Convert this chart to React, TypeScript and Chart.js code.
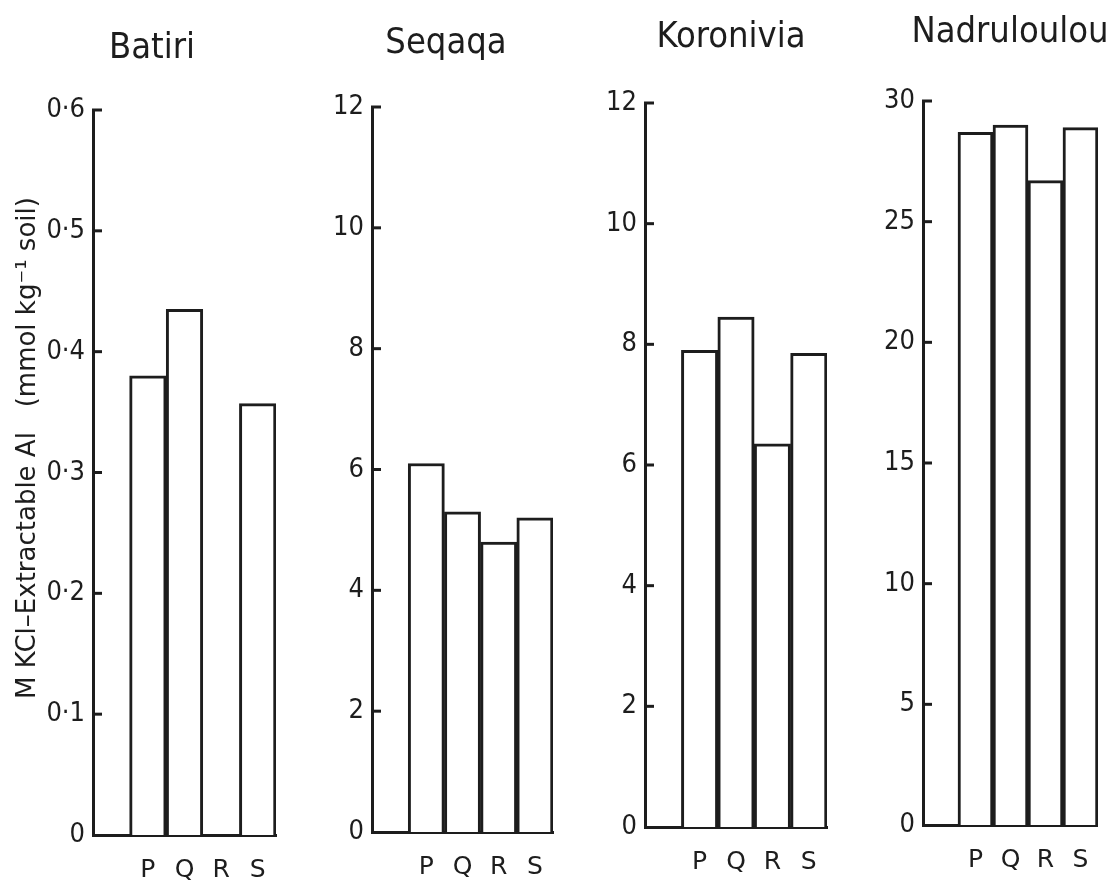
import React, { useEffect, useRef } from 'react';
import { Chart, registerables } from 'chart.js';

Chart.register(...registerables);

// Treatment categories; the first slot is left empty next to the axis
const categories = ['', 'P', 'Q', 'R', 'S'];

// KCl-extractable Al per site (mmol kg-1 soil)
const batiriValues = [null, 0.38, 0.435, 0, 0.357];
const seqaqaValues = [null, 6.1, 5.3, 4.8, 5.2];
const koroniviaValues = [null, 7.9, 8.45, 6.35, 7.85];
const nadruloulouValues = [null, 28.7, 29.0, 26.7, 28.9];

// Axis tick values per site
const batiriTicks = [0, 0.1, 0.2, 0.3, 0.4, 0.5, 0.6];
const seqaqaTicks = [0, 2, 4, 6, 8, 10, 12];
const koroniviaTicks = [0, 2, 4, 6, 8, 10, 12];
const nadruloulouTicks = [0, 5, 10, 15, 20, 25, 30];

const siteNames = ['Batiri', 'Seqaqa', 'Koronivia', 'Nadruloulou'];
const yAxisTitle = 'M KCl\u2013Extractable Al   (mmol kg\u207B\u00B9 soil)';

const INK = '#1d1d1d';
const FONT = '"DejaVu Sans Condensed", "DejaVu Sans", sans-serif';
const FONT_WIDE = '"DejaVu Sans", sans-serif';
const PAGE_W = 1109;
const PAGE_H = 883;
const Y_W = 60;
const X_H = 50;

const decimalLabel = (v: number) => (v === 0 ? '0' : v.toFixed(1).replace('.', '\u00B7'));
const integerLabel = (v: number) => String(v);

// Placement of each panel on the page
const panels = [
  { name: siteNames[0], values: batiriValues, ticks: batiriTicks, fmt: decimalLabel, axisX: 93, rightX: 276, top: 110, bottom: 835, titleX: 152, titleY: 58, yTitle: true },
  { name: siteNames[1], values: seqaqaValues, ticks: seqaqaTicks, fmt: integerLabel, axisX: 372, rightX: 553, top: 107, bottom: 832, titleX: 446, titleY: 53, yTitle: false },
  { name: siteNames[2], values: koroniviaValues, ticks: koroniviaTicks, fmt: integerLabel, axisX: 645, rightX: 827, top: 103, bottom: 827, titleX: 731, titleY: 47, yTitle: false },
  { name: siteNames[3], values: nadruloulouValues, ticks: nadruloulouTicks, fmt: integerLabel, axisX: 923, rightX: 1103, top: 101, bottom: 825, titleX: 1010, titleY: 42, yTitle: false },
];

// Inward tick marks, panel heading and the shared vertical axis title
const panelDecor = {
  id: 'panelDecor',
  afterDraw(chart: any, _args: any, opts: any) {
    const { ctx, chartArea } = chart;
    const y = chart.scales.y;
    ctx.save();
    ctx.strokeStyle = INK;
    ctx.lineWidth = 3;
    ctx.lineCap = 'butt';
    y.ticks.forEach((t: any) => {
      if (t.value === 0) return;
      const py = y.getPixelForValue(t.value);
      ctx.beginPath();
      ctx.moveTo(chartArea.left - 1, py);
      ctx.lineTo(chartArea.left + 9, py);
      ctx.stroke();
    });
    ctx.fillStyle = INK;
    ctx.font = `36px ${FONT}`;
    ctx.textAlign = 'center';
    ctx.textBaseline = 'alphabetic';
    ctx.fillText(opts.title, opts.titleX, opts.titleY);
    if (opts.showYTitle) {
      ctx.translate(28, 448);
      ctx.rotate(-Math.PI / 2);
      ctx.font = `26px ${FONT_WIDE}`;
      ctx.textBaseline = 'middle';
      ctx.fillText(yAxisTitle, 0, 0);
    }
    ctx.restore();
  },
};

function Panel({ p }: { p: (typeof panels)[number] }) {
  const ref = useRef<HTMLCanvasElement>(null);
  useEffect(() => {
    if (!ref.current) return;
    const max = p.ticks[p.ticks.length - 1];
    const chart = new Chart(ref.current, {
      type: 'bar',
      data: {
        labels: categories,
        datasets: [
          {
            data: p.values as any,
            backgroundColor: '#ffffff',
            borderColor: INK,
            borderWidth: 3,
            barPercentage: 1,
            categoryPercentage: 1,
          },
        ],
      },
      options: {
        responsive: false,
        animation: false,
        devicePixelRatio: 1,
        layout: {
          padding: {
            left: p.axisX - Y_W,
            right: PAGE_W - p.rightX,
            top: p.top,
            bottom: PAGE_H - p.bottom - X_H,
          },
        },
        plugins: {
          legend: { display: false },
          tooltip: { enabled: false },
          panelDecor: { title: p.name, titleX: p.titleX, titleY: p.titleY, showYTitle: p.yTitle },
        } as any,
        scales: {
          x: {
            grid: { display: false, drawTicks: false },
            border: { display: true, width: 3, color: INK },
            ticks: { color: INK, font: { family: FONT_WIDE, size: 25 }, padding: 20, maxRotation: 0 },
            afterFit: (s: any) => {
              s.height = X_H;
            },
          },
          y: {
            min: 0,
            max,
            grid: { display: false, drawTicks: false },
            border: { display: true, width: 3, color: INK },
            ticks: {
              color: INK,
              font: { family: FONT, size: 27 },
              padding: 8,
              callback: (v: any) => p.fmt(Number(v)),
            },
            afterBuildTicks: (s: any) => {
              s.ticks = p.ticks.map((v) => ({ value: v }));
            },
            afterFit: (s: any) => {
              s.width = Y_W;
            },
          },
        },
      },
      plugins: [panelDecor],
    });
    return () => chart.destroy();
  }, [p]);
  return (
    <canvas
      ref={ref}
      width={PAGE_W}
      height={PAGE_H}
      style={{ position: 'absolute', left: 0, top: 0, width: PAGE_W, height: PAGE_H }}
    />
  );
}

export default function App() {
  return (
    <div style={{ position: 'absolute', left: 0, top: 0, width: PAGE_W, height: PAGE_H, background: '#ffffff' }}>
      {panels.map((p) => (
        <Panel key={p.name} p={p} />
      ))}
    </div>
  );
}
